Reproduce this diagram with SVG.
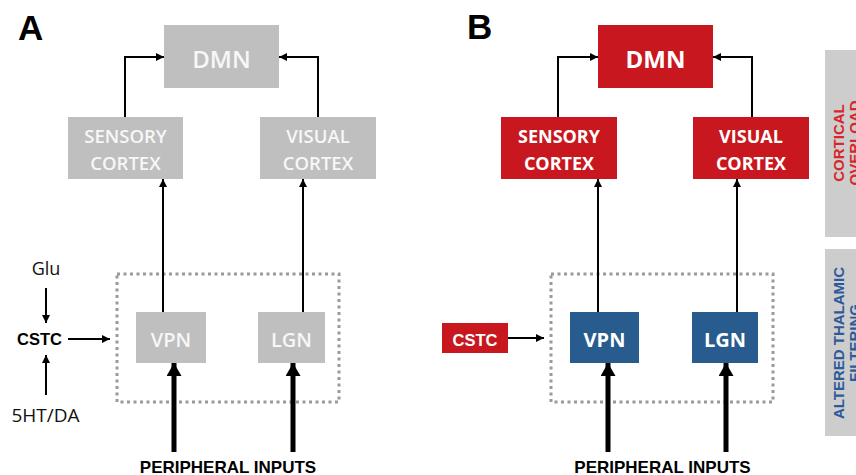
<svg xmlns="http://www.w3.org/2000/svg" width="856" height="475" viewBox="0 0 856 475">
<style>
.bg{fill:#ffffff}
.gbox{fill:#bfbfbf}
.rbox{fill:#c8171e}
.bbox{fill:#285c8e}
.side{fill:#cdcdcd}
.bt{font-family:"Open Sans","Liberation Sans",sans-serif;fill:#f7f7f7;text-anchor:middle;font-weight:600}
.btb{font-family:"Open Sans","Liberation Sans",sans-serif;fill:#ffffff;text-anchor:middle;font-weight:700}
.lbl{font-family:"Liberation Sans",Arial,sans-serif;font-weight:bold;fill:#000}
.plain{font-family:"Open Sans","Liberation Sans",sans-serif;fill:#111;text-anchor:middle;font-weight:500}
.thin{stroke:#000;stroke-width:2;fill:none}
.thick{stroke:#000;stroke-width:5;fill:none}
.dot{stroke:#9a9a9a;stroke-width:3;fill:none;stroke-dasharray:3 3.5}
.side-t{font-family:"Liberation Sans",Arial,sans-serif;font-weight:bold;font-size:15px;text-anchor:middle}
</style>
<defs>
<marker id="ah" markerUnits="userSpaceOnUse" markerWidth="8" markerHeight="8" refX="8" refY="4" orient="auto">
<path d="M0,0 L8,4 L0,8 z" fill="#000"/>
</marker>
<marker id="ahk" markerUnits="userSpaceOnUse" markerWidth="14" markerHeight="15" refX="13" refY="7.5" orient="auto">
<path d="M0,0 L13,7.5 L0,15 z" fill="#000"/>
</marker>
</defs>
<rect class="bg" x="0" y="0" width="856" height="475"/>

<!-- Panel labels -->
<text class="lbl" x="18" y="40" font-size="35">A</text>
<text class="lbl" x="467" y="39" font-size="35">B</text>

<!-- Panel A -->
<rect class="dot" x="117" y="274" width="222" height="128"/>
<g id="a-dmn"><rect class="gbox" x="164" y="25" width="115" height="63"/><text class="bt" x="221.5" y="68" font-size="24">DMN</text></g>
<g id="a-sensory"><rect class="gbox" x="68" y="117" width="115" height="62"/><text class="bt" x="125.5" y="143" font-size="18.5">SENSORY</text><text class="bt" x="125.5" y="170" font-size="18.5">CORTEX</text></g>
<g id="a-visual"><rect class="gbox" x="260" y="117" width="116" height="62"/><text class="bt" x="318" y="143" font-size="18.5">VISUAL</text><text class="bt" x="318" y="170" font-size="18.5">CORTEX</text></g>
<g id="a-vpn"><rect class="gbox" x="136" y="312" width="70" height="51"/><text class="bt" x="171" y="347" font-size="20">VPN</text></g>
<g id="a-lgn"><rect class="gbox" x="258" y="312" width="67" height="51"/><text class="bt" x="291.5" y="347" font-size="20">LGN</text></g>
<g id="a-glu"><text class="plain" x="46" y="275" font-size="18">Glu</text></g>
<g id="a-cstc"><text class="lbl" x="17" y="345" font-size="16.5">CSTC</text></g>
<g id="a-5ht"><text class="plain" x="45.5" y="422" font-size="19">5HT/DA</text></g>
<g id="a-periph"><text class="lbl" x="228" y="472.5" font-size="17" text-anchor="middle">PERIPHERAL INPUTS</text></g>

<!-- Panel B -->
<rect class="dot" x="551" y="274" width="222" height="128"/>
<g id="b-dmn"><rect class="rbox" x="598" y="25" width="115" height="63"/><text class="btb" x="655.5" y="68" font-size="24">DMN</text></g>
<g id="b-sensory"><rect class="rbox" x="501" y="117" width="116" height="62"/><text class="btb" x="559" y="143" font-size="18">SENSORY</text><text class="btb" x="559" y="170" font-size="18">CORTEX</text></g>
<g id="b-visual"><rect class="rbox" x="693" y="117" width="116" height="62"/><text class="btb" x="751" y="143" font-size="18">VISUAL</text><text class="btb" x="751" y="170" font-size="18">CORTEX</text></g>
<g id="b-vpn"><rect class="bbox" x="570" y="312" width="69" height="51"/><text class="btb" x="604.5" y="347" font-size="20">VPN</text></g>
<g id="b-lgn"><rect class="bbox" x="692" y="312" width="66" height="51"/><text class="btb" x="725" y="347" font-size="20">LGN</text></g>
<g id="b-cstc"><rect class="rbox" x="442" y="323" width="66" height="30"/><text class="lbl" x="475" y="345.5" font-size="16.5" text-anchor="middle" style="fill:#fff">CSTC</text></g>
<g id="b-periph"><text class="lbl" x="662.5" y="472.5" font-size="17" text-anchor="middle">PERIPHERAL INPUTS</text></g>

<!-- Side bars -->
<g id="side-cortical"><rect class="side" x="825" y="50" width="40" height="187"/>
<text class="side-t" fill="#d8262b" transform="translate(844,143) rotate(-90)"><tspan x="0" y="0">CORTICAL</tspan><tspan x="0" y="16">OVERLOAD</tspan></text></g>
<g id="side-thalamic"><rect class="side" x="825" y="249" width="40" height="187"/>
<text class="side-t" fill="#2d5a9a" transform="translate(844,343) rotate(-90)"><tspan x="0" y="0">ALTERED THALAMIC</tspan><tspan x="0" y="16">FILTERING</tspan></text></g>

<!-- Connectors -->
<g id="connectors">
<path class="thin" d="M125,117 V57 H164" marker-end="url(#ah)"/>
<path class="thin" d="M318,117 V57 H279" marker-end="url(#ah)"/>
<path class="thin" d="M163,312 V179" marker-end="url(#ah)"/>
<path class="thin" d="M303,312 V179" marker-end="url(#ah)"/>
<path class="thick" d="M174,452 V363" marker-end="url(#ahk)"/>
<path class="thick" d="M293,452 V363" marker-end="url(#ahk)"/>
<path class="thin" d="M46,288 V323" marker-end="url(#ah)"/>
<path class="thin" d="M46,395 V355" marker-end="url(#ah)"/>
<path class="thin" d="M68,339 H110" marker-end="url(#ah)"/>

<path class="thin" d="M558,117 V57 H598" marker-end="url(#ah)"/>
<path class="thin" d="M752,117 V57 H713" marker-end="url(#ah)"/>
<path class="thin" d="M598,312 V179" marker-end="url(#ah)"/>
<path class="thin" d="M737,312 V179" marker-end="url(#ah)"/>
<path class="thick" d="M608,452 V363" marker-end="url(#ahk)"/>
<path class="thick" d="M726,452 V363" marker-end="url(#ahk)"/>
<path class="thin" d="M508,338 H544" marker-end="url(#ah)"/>
</g>
</svg>
